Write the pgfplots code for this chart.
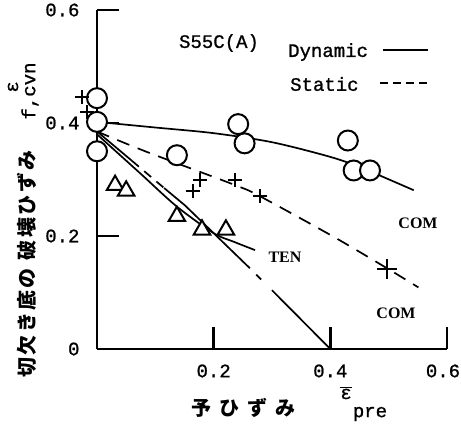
\documentclass[border=0pt]{standalone}
\usepackage{fontspec}
\usepackage{pgfplots}
\pgfplotsset{compat=1.18}
\newfontfamily\mono{Liberation Mono}[FakeBold=1]
\newfontfamily\tnr{Liberation Serif}
\newfontfamily\jp{Noto Sans CJK JP}
\newcommand\tl{\mono\fontsize{19bp}{22bp}\selectfont}

\begin{document}
\begin{tikzpicture}
\begin{axis}[at={(0,0)},anchor=south west,scale only axis,
  width=350bp,height=339bp,
  xmin=0,xmax=0.6,ymin=0,ymax=0.6,clip=false,
  axis x line=bottom,axis y line=left,
  axis line style={-,line width=2.4bp},
  every tick/.style={black,line width=2.4bp},
  tick align=inside,major tick length=22bp,
  xtick={0.2,0.4,0.6},xticklabels={0.2,0.4,\hspace*{-8bp}0.6},
  ytick={0,0.2,0.4,0.6},yticklabels={0,0.2,0.4,0.6},
  ticklabel style={font=\tl},
  xticklabel style={yshift=-12bp},
  yticklabel style={xshift=-14bp}]
% Dynamic, COM
\addplot[black,line width=1.7bp,smooth,tension=0.5] coordinates
  {(0,0.402) (0.1,0.392) (0.2,0.382) (0.3,0.366) (0.4,0.340) (0.455,0.320) (0.543,0.281)};
% Static, COM
\addplot[black,line width=1.7bp,dash pattern=on 13bp off 9bp,smooth,tension=0.5] coordinates
  {(0,0.385) (0.085,0.349) (0.237,0.290) (0.28,0.270) (0.405,0.199) (0.497,0.143) (0.551,0.109)};
% Dynamic, TEN
\addplot[black,line width=1.7bp,smooth,tension=0.5] coordinates
  {(0,0.380) (0.074,0.311) (0.137,0.252) (0.2,0.205) (0.234,0.190) (0.271,0.175)};
% straight line to 0.4
\addplot[black,line width=1.7bp] coordinates {(0,0.385) (0.06,0.333)};
\addplot[black,line width=1.7bp,dash pattern=on 9bp off 7bp] coordinates {(0.06,0.333) (0.115,0.285)};
\addplot[black,line width=1.7bp] coordinates {(0.115,0.285) (0.151,0.254) (0.262,0.143)};
\addplot[black,line width=1.7bp,dash pattern=on 0bp off 9bp on 7bp off 9bp] coordinates {(0.262,0.143) (0.30,0.104)};
\addplot[black,line width=1.7bp] coordinates {(0.30,0.104) (0.40,0.0)};
% circles
\addplot[only marks,mark=*,mark size=10bp,mark options={fill=white,draw=black,line width=2bp}] coordinates
  {(0,0.444) (0,0.402) (0,0.350) (0.137,0.343) (0.242,0.398) (0.253,0.364)
   (0.430,0.369) (0.440,0.316) (0.468,0.316)};
% plus
\addplot[only marks,mark=+,mark size=7bp,mark options={line width=2bp}] coordinates
  {(-0.026,0.446) (-0.017,0.420) (0.177,0.299) (0.164,0.280) (0.237,0.299) (0.280,0.270)};
\addplot[only marks,mark=+,mark size=10bp,mark options={line width=2bp}] coordinates
  {(0.497,0.141)};
% triangles
\addplot[only marks,mark=triangle*,mark size=9.5bp,mark options={fill=white,draw=black,line width=2bp}] coordinates
  {(0.031,0.290) (0.050,0.280) (0.137,0.235) (0.180,0.211) (0.221,0.211)};
\end{axis}
\begin{scope}[x=1bp,y=-1bp,shift={(-97bp,349bp)}]
\node[font=\tl] at (219,43) {S55C(A)};
\node[font=\tl,anchor=west,inner sep=0] at (288,52) {Dynamic};
\draw[line width=1.7bp] (383,50) -- (428,50);
\node[font=\tl,anchor=west,inner sep=0] at (290,84) {Static};
\draw[line width=1.7bp,dash pattern=on 8bp off 5bp] (380,83) -- (428,83);
\node[font=\tnr\bfseries\fontsize{16bp}{20bp}\selectfont] at (418,223) {COM};
\node[font=\tnr\bfseries\fontsize{16bp}{20bp}\selectfont] at (396,313) {COM};
\node[font=\tnr\bfseries\fontsize{16bp}{20bp}\selectfont] at (285,257) {TEN};
% x label
\node[font={\jp\bfseries\fontsize{20bp}{22bp}\selectfont\addfontfeature{LetterSpace=40}}] at (244,408) {予ひずみ};
\node[font=\tl] at (346,393) {$\overline{\hbox{ε}}$};
\node[font=\tl] at (370,414) {pre};
% y label
\node[rotate=90,font={\jp\bfseries\fontsize{20bp}{22bp}\selectfont\addfontfeature{LetterSpace=12}}] at (27,264) {切欠き底の\hspace{8bp}破壊ひずみ};
\node[rotate=90,font=\tl] at (13,87) {ε};
\node[rotate=90,font=\tl] at (30,91) {f,cvn};
\end{scope}
\pgfresetboundingbox
\path[use as bounding box] (-97bp,-79bp) rectangle (364bp,349bp);
\end{tikzpicture}
\end{document}
